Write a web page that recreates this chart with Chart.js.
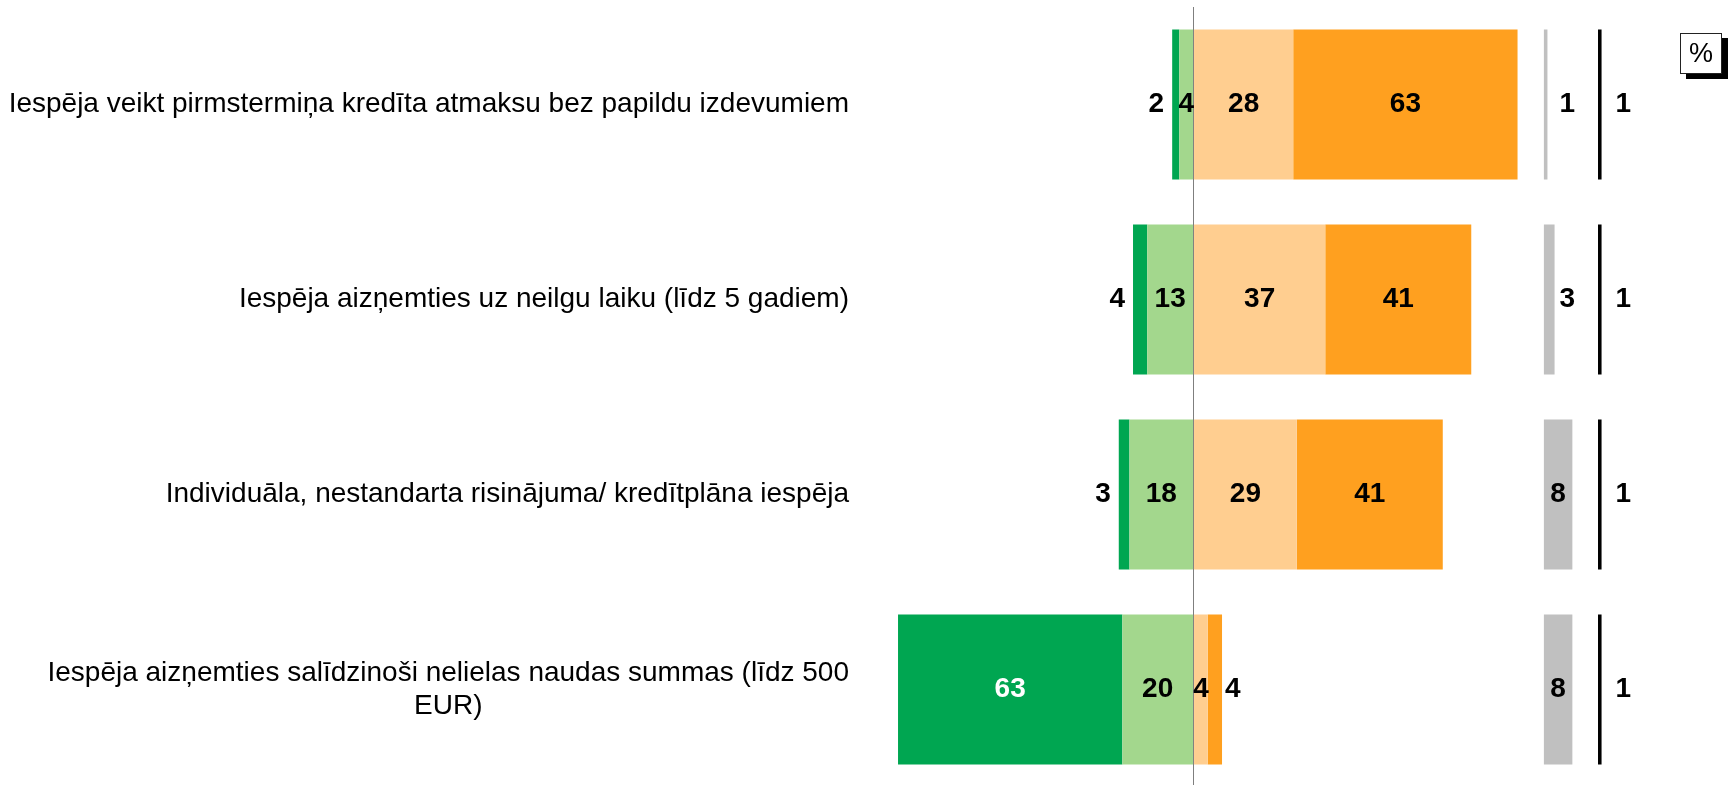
<!DOCTYPE html>
<html>
<head>
<meta charset="utf-8">
<script src="https://cdn.jsdelivr.net/npm/chart.js@4.4.1/dist/chart.umd.min.js"></script>
<style>
  html, body { margin: 0; padding: 0; background: #fff; overflow: hidden; }
  #wrap { position: absolute; left: 0; top: 0; width: 1729px; height: 790px; }
  #pct {
    position: absolute; left: 1680px; top: 33px; width: 40px; height: 39px;
    border: 1px solid #222; background: #fff; box-shadow: 6px 5px 0 #000;
    font: 27px 'Liberation Sans', Arial, sans-serif; line-height: 39px; text-align: center;
  }
</style>
</head>
<body>
<div id="wrap">
  <canvas id="chart" width="1729" height="790"></canvas>
  <div id="pct">%</div>
</div>
<script>
const categories = [
  'Iespēja veikt pirmstermiņa kredīta atmaksu bez papildu izdevumiem',
  'Iespēja aizņemties uz neilgu laiku (līdz 5 gadiem)',
  'Individuāla, nestandarta risinājuma/ kredītplāna iespēja',
  ['Iespēja aizņemties salīdzinoši nelielas naudas summas (līdz 500', 'EUR)'],
];
const veryUnimportant = [2, 4, 3, 63];
const ratherUnimportant = [4, 13, 18, 20];
const ratherImportant = [28, 37, 29, 4];
const veryImportant = [63, 41, 41, 4];
const hardToSay = [1, 3, 8, 8];
const noAnswer = [1, 1, 1, 1];

const FONT = "'Liberation Sans', Arial, sans-serif";
const GREY_START = 98.4;
const BLACK_START = 113.6;
const LABEL_RIGHT = 849;

const neg = arr => arr.map(v => -v);
const floating = (arr, start) => arr.map(v => [start, start + v]);

// value labels, placed inside or next to the bar
const valueLabels = {
  id: 'valueLabels',
  afterDatasetsDraw(chart) {
    const ctx = chart.ctx;
    ctx.save();
    ctx.font = 'bold 28px ' + FONT;
    ctx.textBaseline = 'middle';
    chart.data.datasets.forEach((ds, i) => {
      const meta = chart.getDatasetMeta(i);
      meta.data.forEach((bar, j) => {
        const p = bar.getProps(['x', 'base', 'y'], true);
        const left = Math.min(p.x, p.base);
        const right = Math.max(p.x, p.base);
        const text = String(ds.values[j]);
        const tw = ctx.measureText(text).width;
        const fits = right - left >= tw + 4;
        ctx.fillStyle = '#000';
        if (ds.labelMode === 'left' && !fits) {
          ctx.textAlign = 'right';
          ctx.fillText(text, left - 8, p.y);
        } else if (ds.labelMode === 'right' && !fits) {
          ctx.textAlign = 'left';
          ctx.fillText(text, right + 3, p.y);
        } else if (ds.labelMode === 'grey' && !fits) {
          ctx.textAlign = 'center';
          ctx.fillText(text, left + 23.5, p.y);
        } else if (ds.labelMode === 'after') {
          ctx.textAlign = 'left';
          ctx.fillText(text, right + 14, p.y);
        } else {
          ctx.textAlign = 'center';
          ctx.fillStyle = ds.insideColor || '#000';
          ctx.fillText(text, (left + right) / 2, p.y);
        }
      });
    });
    ctx.restore();
  }
};

// category labels, right aligned block, lines centred inside the block
const categoryLabels = {
  id: 'categoryLabels',
  afterDraw(chart) {
    const ctx = chart.ctx;
    const y = chart.scales.y;
    ctx.save();
    ctx.font = '28px ' + FONT;
    ctx.fillStyle = '#000';
    ctx.textAlign = 'center';
    ctx.textBaseline = 'middle';
    categories.forEach((c, i) => {
      const lines = Array.isArray(c) ? c : [c];
      const w = Math.max(...lines.map(l => ctx.measureText(l).width));
      const cy = y.getPixelForValue(i);
      const lh = 33;
      lines.forEach((l, k) => {
        ctx.fillText(l, LABEL_RIGHT - w / 2, cy + (k - (lines.length - 1) / 2) * lh);
      });
    });
    ctx.restore();
  }
};

new Chart(document.getElementById('chart'), {
  type: 'bar',
  data: {
    labels: categories,
    datasets: [
      { values: ratherUnimportant, data: neg(ratherUnimportant), backgroundColor: '#a3d78d', stack: 'main', labelMode: 'center' },
      { values: veryUnimportant, data: neg(veryUnimportant), backgroundColor: '#00a651', stack: 'main', labelMode: 'left', insideColor: '#fff' },
      { values: ratherImportant, data: ratherImportant, backgroundColor: '#ffce90', stack: 'main', labelMode: 'center' },
      { values: veryImportant, data: veryImportant, backgroundColor: '#ffa01f', stack: 'main', labelMode: 'right' },
      { values: hardToSay, data: floating(hardToSay, GREY_START), backgroundColor: '#c0c0c0', stack: 'grey', grouped: false, labelMode: 'grey' },
      { values: noAnswer, data: floating(noAnswer, BLACK_START), backgroundColor: '#000', stack: 'black', grouped: false, labelMode: 'after' },
    ],
  },
  options: {
    indexAxis: 'y',
    responsive: false,
    animation: false,
    layout: { padding: { left: 837.5, right: 37, top: 7, bottom: 3 } },
    categoryPercentage: 1,
    barPercentage: 0.77,
    plugins: { legend: { display: false }, tooltip: { enabled: false } },
    scales: {
      x: {
        stacked: true,
        min: -100,
        max: 140,
        z: 1,
        ticks: { display: false, stepSize: 10 },
        border: { display: false },
        grid: {
          drawTicks: false,
          lineWidth: 1,
          color: c => (c.tick && c.tick.value === 0 ? '#7f7f7f' : 'rgba(0,0,0,0)'),
        },
      },
      y: {
        stacked: true,
        display: false,
      },
    },
  },
  plugins: [valueLabels, categoryLabels],
});
</script>
</body>
</html>
